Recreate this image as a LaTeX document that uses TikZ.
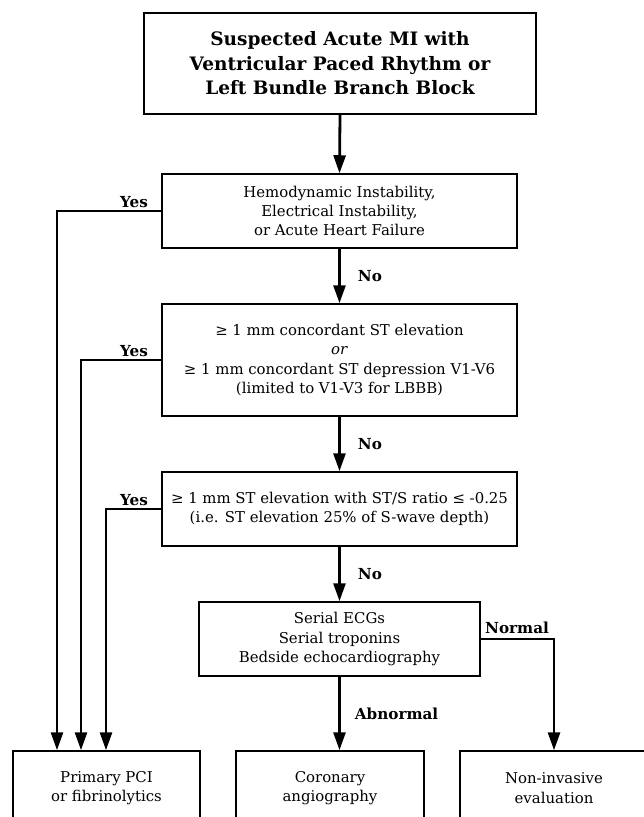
\documentclass[tikz,border=0pt]{standalone}
\usepackage{fontspec}
\setmainfont{DejaVu Serif}
\usetikzlibrary{arrows.meta}
\begin{document}
\begin{tikzpicture}[x=1pt,y=-1pt,
  box/.style={draw=black, line width=1.5pt, align=center, inner sep=0pt,
    font=\fontsize{14.9}{19.3}\selectfont},
  titlebox/.style={draw=black, line width=2pt, align=center, inner sep=0pt,
    font=\fontsize{18.5}{24.5}\selectfont\bfseries},
  conn/.style={line width=2.8pt, -{Triangle[length=18pt,width=12pt]}},
  lbl/.style={font=\fontsize{15.2}{17}\selectfont\bfseries, inner sep=0pt}]
\useasboundingbox (0,0) rectangle (644,817);
\clip (0,0) rectangle (644,817);
\fill[white] (0,0) rectangle (644,817);
% boxes
\node[titlebox, minimum width=392pt, minimum height=101pt] (top) at (340,63.5)
  {Suspected Acute MI with\\Ventricular Paced Rhythm or\\Left Bundle Branch Block};
\node[box, minimum width=355pt, minimum height=74pt] (hemo) at (339.5,211)
  {Hemodynamic Instability,\\Electrical Instability,\\or Acute Heart Failure};
\node[box, minimum width=355pt, minimum height=112pt] (conc) at (339.5,360)
  {≥ 1 mm concordant ST elevation\\\textit{or}\\≥ 1 mm concordant ST depression V1-V6\\(limited to V1-V3 for LBBB)};
\node[box, minimum width=355pt, minimum height=74pt] (ratio) at (339.5,509)
  {≥ 1 mm ST elevation with ST/S ratio ≤ -0.25\\(i.e. ST elevation 25\% of S-wave depth)};
\node[box, minimum width=281pt, minimum height=74pt] (serial) at (339.5,639)
  {Serial ECGs\\Serial troponins\\Bedside echocardiography};
\node[box, minimum width=187pt, minimum height=74pt] (pci) at (106.5,788)
  {Primary PCI\\or fibrinolytics};
\node[box, minimum width=188pt, minimum height=74pt] (cor) at (330,788)
  {Coronary\\angiography};
\node[box, minimum width=188pt, minimum height=74pt] (noninv) at (554,788)
  {Non-invasive\\evaluation};
% corner coordinates
\coordinate (y1) at (57,211);
\coordinate (y2) at (81,360);
\coordinate (y3) at (106,509);
\coordinate (n1) at (554,639);
% vertical connectors
\draw[conn] (top.south) -- (hemo.north);
\draw[conn] (hemo.south) -- node[lbl, right=17pt] {No} (conc.north);
\draw[conn] (conc.south) -- node[lbl, right=17pt] {No} (ratio.north);
\draw[conn] (ratio.south) -- node[lbl, right=17pt] {No} (serial.north);
\draw[conn] (serial.south) -- node[lbl, right=14pt, pos=0.5] {Abnormal} (serial.south |- cor.north);
% yes branches
\draw[conn] (hemo.west) -- (y1) -- (y1 |- pci.north);
\draw[conn] (conc.west) -- (y2) -- (y2 |- pci.north);
\draw[conn] (ratio.west) -- (y3) -- (y3 |- pci.north);
\node[lbl, anchor=south east] (yes1) at (148,208) {Yes};
\node[lbl, anchor=south east] (yes2) at (148,357) {Yes};
\node[lbl, anchor=south east] (yes3) at (148,506) {Yes};
% normal branch
\draw[conn] (serial.east) -- (n1) -- (noninv.north);
\node[lbl, anchor=south west] (normal) at (485,634) {Normal};
\end{tikzpicture}
\end{document}
